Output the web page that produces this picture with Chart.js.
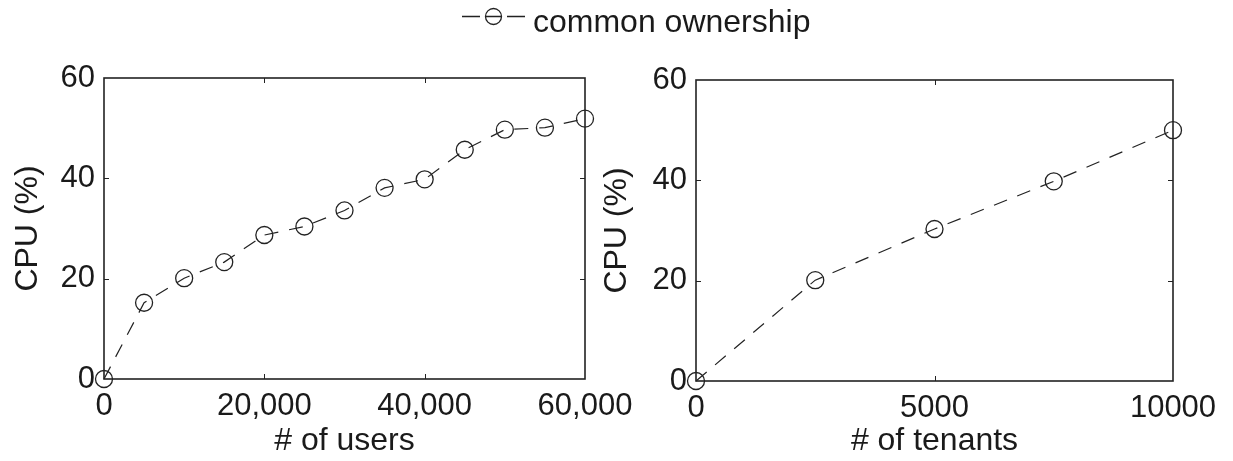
<!DOCTYPE html>
<html>
<head>
<meta charset="utf-8">
<script src="https://cdn.jsdelivr.net/npm/chart.js@4.4.1/dist/chart.umd.min.js"></script>
<style>
  html, body { margin:0; padding:0; background:#fff; }
  #wrap { position:relative; width:1233px; height:461px; overflow:hidden; }
  canvas { position:absolute; left:0; top:0; }
  #legend { position:absolute; left:0; top:0; }
</style>
</head>
<body>
<div id="wrap">
  <canvas id="c1" width="1233" height="461"></canvas>
  <canvas id="c2" width="1233" height="461"></canvas>
  <svg id="legend" width="1233" height="46" xmlns="http://www.w3.org/2000/svg">
    <line x1="462" y1="16.5" x2="525" y2="16.5" stroke="#222" stroke-width="1.3" stroke-dasharray="18 6 15 6 18"/>
    <circle cx="493.5" cy="16.5" r="8" fill="none" stroke="#222" stroke-width="1.3"/>
    <text x="533" y="32" font-family="'Liberation Sans', Arial, sans-serif" font-size="32" fill="#1a1a1a">common ownership</text>
  </svg>
</div>
<script>
// ---- data ----
const seriesName = 'common ownership';
const usersX = [0, 5000, 10000, 15000, 20000, 25000, 30000, 35000, 40000, 45000, 50000, 55000, 60000];
const usersCpu = [0, 15.2, 20.1, 23.3, 28.7, 30.4, 33.6, 38.1, 39.8, 45.7, 49.7, 50.1, 51.9];
const tenantsX = [0, 2500, 5000, 7500, 10000];
const tenantsCpu = [0, 20.1, 30.3, 39.8, 50.0];
const usersTicks = [0, 20000, 40000, 60000];
const tenantsTicks = [0, 5000, 10000];
const cpuTicks = [0, 20, 40, 60];

const FONT = "'Liberation Sans', Arial, Helvetica, sans-serif";
const INK = '#1a1a1a';

const framePlugin = {
  id: 'frame',
  afterDraw(chart) {
    const { ctx, chartArea: { left, right, top, bottom }, scales: { x, y } } = chart;
    ctx.save();
    ctx.strokeStyle = '#222';
    ctx.lineWidth = 1;
    const L = 5;
    const line = (a, b, c, d) => { ctx.beginPath(); ctx.moveTo(a, b); ctx.lineTo(c, d); ctx.stroke(); };
    x.ticks.forEach(t => {
      const px = Math.round(x.getPixelForValue(t.value)) + 0.5;
      if (px <= left + 2 || px >= right - 2) return;
      line(px, bottom, px, bottom - L);
      line(px, top, px, top + L);
    });
    y.ticks.forEach(t => {
      const py = Math.round(y.getPixelForValue(t.value)) + 0.5;
      if (py <= top + 2 || py >= bottom - 2) return;
      line(left, py, left + L, py);
      line(right, py, right - L, py);
    });
    ctx.lineWidth = 1.6;
    ctx.strokeRect(left, top, right - left, bottom - top);
    ctx.restore();
  }
};

function makeChart(id, xs, ys, xTicks, xTitle, geo, fmt) {
  const pts = xs.map((v, i) => ({ x: v, y: ys[i] }));
  return new Chart(document.getElementById(id), {
    type: 'line',
    data: {
      datasets: [{
        label: seriesName,
        data: pts,
        borderColor: '#222',
        borderWidth: 1.2,
        borderDash: [14, 11],
        pointRadius: 8.5,
        pointHoverRadius: 8.5,
        pointBorderWidth: 1.3,
        pointBorderColor: '#222',
        pointBackgroundColor: 'rgba(0,0,0,0)',
        fill: false,
        tension: 0,
        clip: false
      }]
    },
    options: {
      responsive: false,
      animation: false,
      devicePixelRatio: 1,
      layout: { padding: { left: geo.padLeft, right: geo.padRight, top: geo.top, bottom: 0 } },
      plugins: { legend: { display: false }, tooltip: { enabled: false } },
      scales: {
        x: {
          type: 'linear',
          min: xTicks[0],
          max: xTicks[xTicks.length - 1],
          afterBuildTicks(scale) { scale.ticks = xTicks.map(v => ({ value: v })); },
          afterFit(scale) { scale.height = geo.xHeight; },
          grid: { display: false, drawTicks: false },
          border: { display: false },
          ticks: {
            padding: 9,
            color: INK,
            maxRotation: 0,
            autoSkip: false,
            font: { family: FONT, size: 31 },
            callback: fmt
          },
          title: {
            display: true,
            text: xTitle,
            color: INK,
            font: { family: FONT, size: 32, lineHeight: 1.2 },
            padding: { top: 0, bottom: 1 }
          }
        },
        y: {
          type: 'linear',
          min: cpuTicks[0],
          max: cpuTicks[cpuTicks.length - 1],
          afterBuildTicks(scale) { scale.ticks = cpuTicks.map(v => ({ value: v })); },
          afterFit(scale) { scale.width = geo.yWidth; },
          grid: { display: false, drawTicks: false },
          border: { display: false },
          ticks: {
            padding: 9,
            color: INK,
            font: { family: FONT, size: 31 },
            callback: v => String(v)
          },
          title: {
            display: true,
            text: 'CPU (%)',
            color: INK,
            font: { family: FONT, size: 32, lineHeight: 1.2 },
            padding: { top: geo.yTitlePad, bottom: 0 }
          }
        }
      }
    },
    plugins: [framePlugin]
  });
}

// left chart: plot area 104..585 x 78..379
makeChart('c1', usersX, usersCpu, usersTicks, '# of users',
  { padLeft: 0, yWidth: 104, padRight: 1233 - 585, top: 78, xHeight: 461 - 379, yTitlePad: 9 },
  v => Number(v).toLocaleString('en-US'));

// right chart: plot area 696..1173 x 80..381
makeChart('c2', tenantsX, tenantsCpu, tenantsTicks, '# of tenants',
  { padLeft: 590, yWidth: 106, padRight: 1233 - 1173, top: 80, xHeight: 461 - 381, yTitlePad: 8 },
  v => String(v));
</script>
</body>
</html>
